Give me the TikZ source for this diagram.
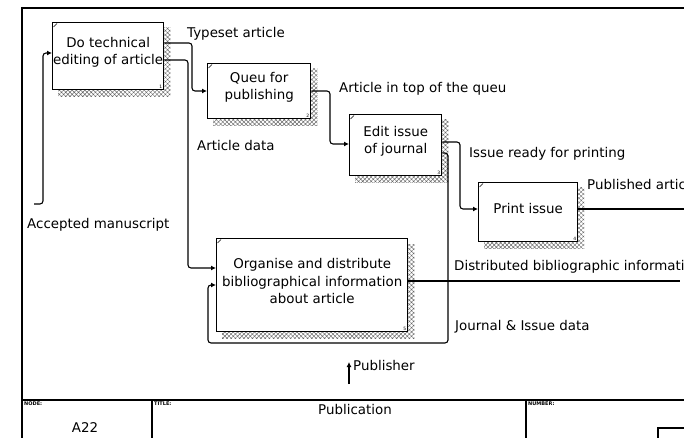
\documentclass[tikz,border=0pt]{standalone}
\usepackage{fontspec}
\setmainfont{DejaVu Sans}
\usetikzlibrary{arrows.meta,patterns.meta,backgrounds}
\begin{document}
\begin{tikzpicture}[x=1pt,y=-1pt,
  every node/.style={font=\fontsize{13.4}{17.5}\selectfont, inner sep=0pt},
  pbox/.style={draw, line width=1.4pt, fill=white, anchor=north west},
  btext/.style={align=center},
  lbl/.style={anchor=west},
  conn/.style={line width=1.1pt, rounded corners=3pt},
  arr/.style={conn, -{Latex[length=5pt,width=5pt]}},
  shade/.style={pattern={Hatch[distance=3pt,angle=45,line width=0.45pt]}, pattern color=black!60},
  tinylbl/.style={font=\fontsize{5}{5}\selectfont\bfseries, anchor=north west},
  boxnum/.style={font=\fontsize{4.5}{5}\selectfont, anchor=south east}
]
\useasboundingbox (0,0) rectangle (684,438);
\clip (0,0) rectangle (684,438);

% frame
\draw[line width=2pt] (22,8) -- (690,8);
\draw[line width=1.5pt] (22,7) -- (22,440);

% boxes
\node[pbox, minimum width=111pt, minimum height=67pt] (b1) at (52,22) {};
\node[pbox, minimum width=103pt, minimum height=55pt] (b2) at (207,63) {};
\node[pbox, minimum width=92pt, minimum height=61pt] (b3) at (349,114) {};
\node[pbox, minimum width=99pt, minimum height=59pt] (b4) at (478,182) {};
\node[pbox, minimum width=191pt, minimum height=93pt] (b5) at (216,238) {};

\begin{pgfonlayer}{background}
\foreach \b in {b1,b2,b3,b4,b5}
  \fill[shade] ([shift={(6pt,-6pt)}]\b.north west) rectangle ([shift={(6pt,-6pt)}]\b.south east);
\end{pgfonlayer}

\foreach \b/\n in {b1/1,b2/2,b3/3,b4/4,b5/5}{
  \draw[line width=0.6pt] ([shift={(1.5pt,-5pt)}]\b.north west) -- ([shift={(5pt,-1.5pt)}]\b.north west);
  \node[boxnum] (\b num) at ([shift={(-2pt,2pt)}]\b.south east) {\n};
}

% box texts
\node[btext] (t1) at ([yshift=4pt]b1.center) {Do technical\\editing of article};
\node[btext] (t2) at ([yshift=4pt]b2.center) {Queu for\\publishing};
\node[btext] (t3) at ([yshift=4pt]b3.center) {Edit issue\\of journal};
\node[btext] (t4) at ([yshift=4pt]b4.center) {Print issue};
\node[btext] (t5) at ([yshift=4pt]b5.center) {Organise and distribute\\bibliographical information\\about article};

% connectors
\coordinate (am) at (34,204);
\draw[arr] (am) -- (43,204) -- (43,53) -- ([yshift=-31pt]b1.north west);
\draw[arr] ([yshift=-21pt]b1.north east) -- (192,43) -- (192,91) -- ([yshift=-28pt]b2.north west);
\draw[arr] ([yshift=-38pt]b1.north east) -- (188,60) -- (188,268) -- ([yshift=-30pt]b5.north west);
\draw[arr] ([yshift=-28pt]b2.north east) -- (330,91) -- (330,144) -- ([yshift=-30pt]b3.north west);
\draw[arr] ([yshift=-28pt]b3.north east) -- (460,142) -- (460,209) -- ([yshift=-27pt]b4.north west);
\draw[arr] ([yshift=-39pt]b3.north east) -- (448,153) -- (448,343) -- (208,343) -- (208,285) -- ([yshift=-47pt]b5.north west);
\coordinate (pa) at (690,209);
\draw[conn] ([yshift=-27pt]b4.north east) -- (pa);
\coordinate (db) at (680,281);
\draw[conn] ([yshift=-43pt]b5.north east) -- (db);
\coordinate (pub) at (349,384);
\coordinate (pubtip) at (349,362);
\draw[arr] (pub) -- (pubtip);

% labels
\node[lbl] (l1) at (187,34) {Typeset article};
\node[lbl] (l2) at (197,146) {Article data};
\node[lbl] (l3) at (339,89) {Article in top of the queu};
\node[lbl] (l4) at (469,154) {Issue ready for printing};
\node[lbl] (l5) at (587,185) {Published article};
\node[lbl] (l6) at (454,267) {Distributed bibliographic information};
\node[lbl] (l7) at (455,327) {Journal \& Issue data};
\node[lbl] (l8) at (27,225) {Accepted manuscript};
\node[lbl] (l9) at (353,366) {Publisher};

% title block
\draw[line width=1.5pt] (22,400) -- (690,400);
\draw[line width=1.2pt] (152,400) -- (152,440);
\draw[line width=1.2pt] (526,400) -- (526,440);
\draw[line width=1.2pt] (658,428) rectangle (695,445);
\node[tinylbl] (nd) at (24,402) {NODE:};
\node[tinylbl] (ti) at (154,402) {TITLE:};
\node[tinylbl] (nu) at (528,402) {NUMBER:};
\node (a22) at (85,428) {A22};
\node (pubn) at (355,410) {Publication};
\end{tikzpicture}
\end{document}
